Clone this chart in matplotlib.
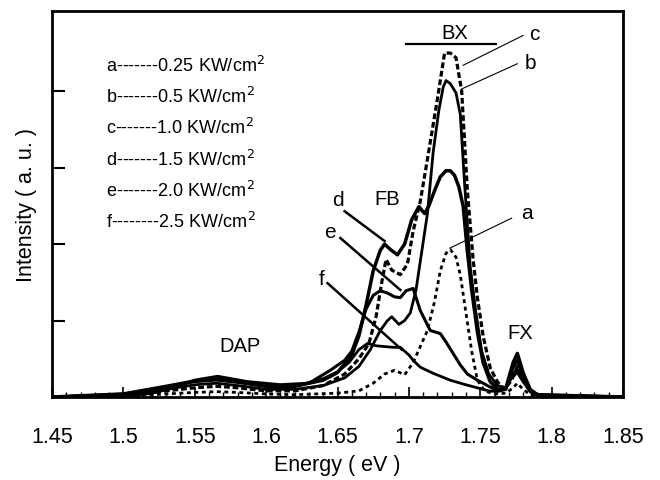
import matplotlib
matplotlib.use("Agg")
import matplotlib.pyplot as plt
from matplotlib.ticker import MultipleLocator

plt.rcParams['font.family'] = ['Liberation Sans', 'DejaVu Sans']

# PL spectra at different excitation densities
e_a = [1.45, 1.50, 1.53, 1.55, 1.565, 1.58, 1.60, 1.62, 1.65, 1.665, 1.675, 1.683, 1.69, 1.697,
       1.703, 1.708, 1.713, 1.718, 1.722, 1.726, 1.729, 1.733, 1.736, 1.74, 1.744, 1.748, 1.753,
       1.76, 1.768, 1.773, 1.776, 1.78, 1.785, 1.79, 1.85]
i_a = [0.0, 0.01, 0.04, 0.06, 0.07, 0.06, 0.04, 0.03, 0.05, 0.08, 0.18, 0.30, 0.35, 0.29,
       0.45, 0.66, 0.87, 1.25, 1.65, 1.88, 1.93, 1.83, 1.60, 1.10, 0.60, 0.22, 0.08,
       0.04, 0.05, 0.12, 0.18, 0.10, 0.03, 0.0, 0.0]

e_b = [1.45, 1.50, 1.53, 1.55, 1.565, 1.58, 1.60, 1.62, 1.64, 1.655, 1.665, 1.673, 1.68, 1.685,
       1.688, 1.693, 1.697, 1.701, 1.705, 1.709, 1.713, 1.717, 1.721, 1.724, 1.726, 1.729, 1.733,
       1.736, 1.739, 1.743, 1.747, 1.751, 1.756, 1.762, 1.768, 1.773, 1.776, 1.78, 1.785, 1.79, 1.85]
i_b = [0.0, 0.03, 0.10, 0.16, 0.18, 0.15, 0.10, 0.10, 0.15, 0.25, 0.40, 0.62, 0.87, 1.00,
       1.05, 0.95, 1.00, 1.10, 1.40, 1.90, 2.40, 3.20, 3.75, 4.05, 4.14, 4.10, 3.98,
       3.70, 2.80, 1.70, 1.10, 0.60, 0.30, 0.15, 0.12, 0.30, 0.36, 0.22, 0.07, 0.02, 0.0]

e_c = [1.45, 1.50, 1.53, 1.55, 1.565, 1.58, 1.60, 1.62, 1.64, 1.655, 1.665, 1.672, 1.677, 1.681,
       1.684, 1.688, 1.694, 1.699, 1.703, 1.708, 1.712, 1.716, 1.72, 1.725, 1.729, 1.733, 1.737,
       1.741, 1.745, 1.748, 1.752, 1.757, 1.762, 1.767, 1.772, 1.776, 1.78, 1.785, 1.79, 1.85]
i_c = [0.0, 0.03, 0.08, 0.12, 0.14, 0.12, 0.08, 0.08, 0.15, 0.30, 0.50, 0.70, 1.05, 1.50,
       1.80, 1.66, 1.60, 1.74, 2.17, 2.56, 3.00, 3.45, 3.90, 4.50, 4.50, 4.44, 4.00,
       2.70, 1.80, 1.30, 0.80, 0.38, 0.20, 0.10, 0.22, 0.40, 0.24, 0.07, 0.02, 0.0]

e_d = [1.45, 1.50, 1.53, 1.55, 1.565, 1.58, 1.60, 1.62, 1.64, 1.65, 1.66, 1.665, 1.67, 1.675,
       1.68, 1.683, 1.687, 1.692, 1.697, 1.702, 1.707, 1.711, 1.714, 1.718, 1.722, 1.726, 1.729,
       1.732, 1.735, 1.738, 1.741, 1.744, 1.748, 1.752, 1.757, 1.762, 1.768, 1.773, 1.776, 1.78,
       1.785, 1.79, 1.85]
i_d = [0.0, 0.04, 0.14, 0.21, 0.24, 0.20, 0.14, 0.14, 0.22, 0.32, 0.55, 0.80, 1.20, 1.65,
       1.92, 2.00, 1.93, 1.86, 2.00, 2.32, 2.49, 2.40, 2.50, 2.70, 2.88, 2.96, 2.96,
       2.90, 2.75, 2.50, 1.90, 1.40, 0.85, 0.45, 0.20, 0.10, 0.12, 0.45, 0.57, 0.32,
       0.10, 0.03, 0.0]

e_e = [1.45, 1.50, 1.52, 1.535, 1.55, 1.566, 1.587, 1.61, 1.63, 1.645, 1.655, 1.66, 1.665, 1.67,
       1.675, 1.68, 1.685, 1.69, 1.694, 1.698, 1.703, 1.708, 1.715, 1.722, 1.726, 1.731, 1.736,
       1.741, 1.748, 1.757, 1.763, 1.768, 1.773, 1.776, 1.78, 1.785, 1.79, 1.85]
i_e = [0.0, 0.01, 0.05, 0.12, 0.22, 0.27, 0.20, 0.16, 0.18, 0.35, 0.48, 0.60, 0.85, 1.15,
       1.33, 1.39, 1.36, 1.31, 1.30, 1.39, 1.42, 1.13, 0.87, 0.83, 0.72, 0.57, 0.42,
       0.30, 0.22, 0.13, 0.08, 0.10, 0.38, 0.48, 0.27, 0.09, 0.03, 0.0]

e_f = [1.45, 1.50, 1.53, 1.55, 1.565, 1.58, 1.60, 1.62, 1.64, 1.65, 1.658, 1.665, 1.671, 1.677,
       1.683, 1.689, 1.694, 1.70, 1.703, 1.708, 1.717, 1.729, 1.738, 1.748, 1.756, 1.762, 1.767,
       1.772, 1.776, 1.78, 1.785, 1.79, 1.85]
i_f = [0.0, 0.04, 0.13, 0.20, 0.22, 0.19, 0.14, 0.14, 0.24, 0.33, 0.45, 0.62, 0.70, 0.67,
       0.66, 0.65, 0.65, 0.55, 0.48, 0.39, 0.31, 0.22, 0.17, 0.12, 0.08, 0.07, 0.10,
       0.25, 0.32, 0.20, 0.07, 0.02, 0.0]

legend_lines = ['a-------0.25 KW/cm$^2$', 'b-------0.5 KW/cm$^2$', 'c-------1.0 KW/cm$^2$',
                'd-------1.5 KW/cm$^2$', 'e-------2.0 KW/cm$^2$', 'f--------2.5 KW/cm$^2$']
xtick_vals = [1.45, 1.5, 1.55, 1.6, 1.65, 1.7, 1.75, 1.8, 1.85]
xtick_text = ['1.45', '1.5', '1.55', '1.6', '1.65', '1.7', '1.75', '1.8', '1.85']

fig = plt.figure(figsize=(6.6, 4.81), dpi=100)
ax = fig.add_axes([52 / 660, 1 - 398 / 481, 571 / 660, 386 / 481])

ax.plot(e_f, i_f, color='black', lw=2.0)
ax.plot(e_e, i_e, color='black', lw=2.2)
ax.plot(e_d, i_d, color='black', lw=2.5)
ax.plot(e_b, i_b, color='black', lw=2.0)
ax.plot(e_c, i_c, color='black', lw=2.3, linestyle=(0, (1.8, 0.9)))
ax.plot(e_a, i_a, color='black', lw=2.0, linestyle=(0, (1.4, 1.3)))

ax.set_xlim(1.45, 1.85)
ax.set_ylim(0, 5.05)
ax.set_xticks(xtick_vals)
ax.set_xticklabels(xtick_text)
ax.xaxis.set_minor_locator(MultipleLocator(0.01))
ax.set_yticks([1, 2, 3, 4])
ax.tick_params(axis='x', which='major', direction='in', length=7, width=1.2, pad=21, labelsize=15.5)
ax.tick_params(axis='x', which='minor', direction='in', length=3.5, width=1.0)
ax.tick_params(axis='y', which='major', direction='in', length=9, width=1.5, labelleft=False)
for s in ax.spines.values():
    s.set_linewidth(2)

ax.set_xlabel('Energy ( eV )', fontsize=15.5, labelpad=5)
ax.set_ylabel('Intensity ( a. u. )', fontsize=15.5, labelpad=11)

for k, txt in enumerate(legend_lines):
    ax.text(1.488, 4.35 - k * 0.41, txt, fontsize=13, ha='left', va='center')

# peak labels
ax.text(1.732, 4.77, 'BX', fontsize=14.5, ha='center', va='center')
ax.plot([1.698, 1.761], [4.62, 4.62], color='black', lw=1.6)
ax.text(1.685, 2.6, 'FB', fontsize=14.5, ha='center', va='center')
ax.text(1.582, 0.68, 'DAP', fontsize=14.5, ha='center', va='center')
ax.text(1.778, 0.84, 'FX', fontsize=14.5, ha='center', va='center')

# curve labels with leader lines
ax.text(1.788, 4.75, 'c', fontsize=15, ha='center', va='center')
ax.plot([1.780, 1.738], [4.73, 4.34], color='black', lw=0.8)
ax.text(1.785, 4.38, 'b', fontsize=15, ha='center', va='center')
ax.plot([1.776, 1.737], [4.36, 4.03], color='black', lw=0.8)
ax.text(1.783, 2.41, 'a', fontsize=15, ha='center', va='center')
ax.plot([1.772, 1.729], [2.34, 1.95], color='black', lw=0.8)
ax.text(1.650, 2.59, 'd', fontsize=15, ha='center', va='center')
ax.plot([1.655, 1.683], [2.43, 2.04], color='black', lw=1.8)
ax.text(1.645, 2.17, 'e', fontsize=15, ha='center', va='center')
ax.plot([1.652, 1.694], [2.08, 1.40], color='black', lw=1.8)
ax.text(1.639, 1.55, 'f', fontsize=15, ha='center', va='center')
ax.plot([1.643, 1.695], [1.49, 0.62], color='black', lw=1.8)

fig.savefig('out.png', dpi=100)
